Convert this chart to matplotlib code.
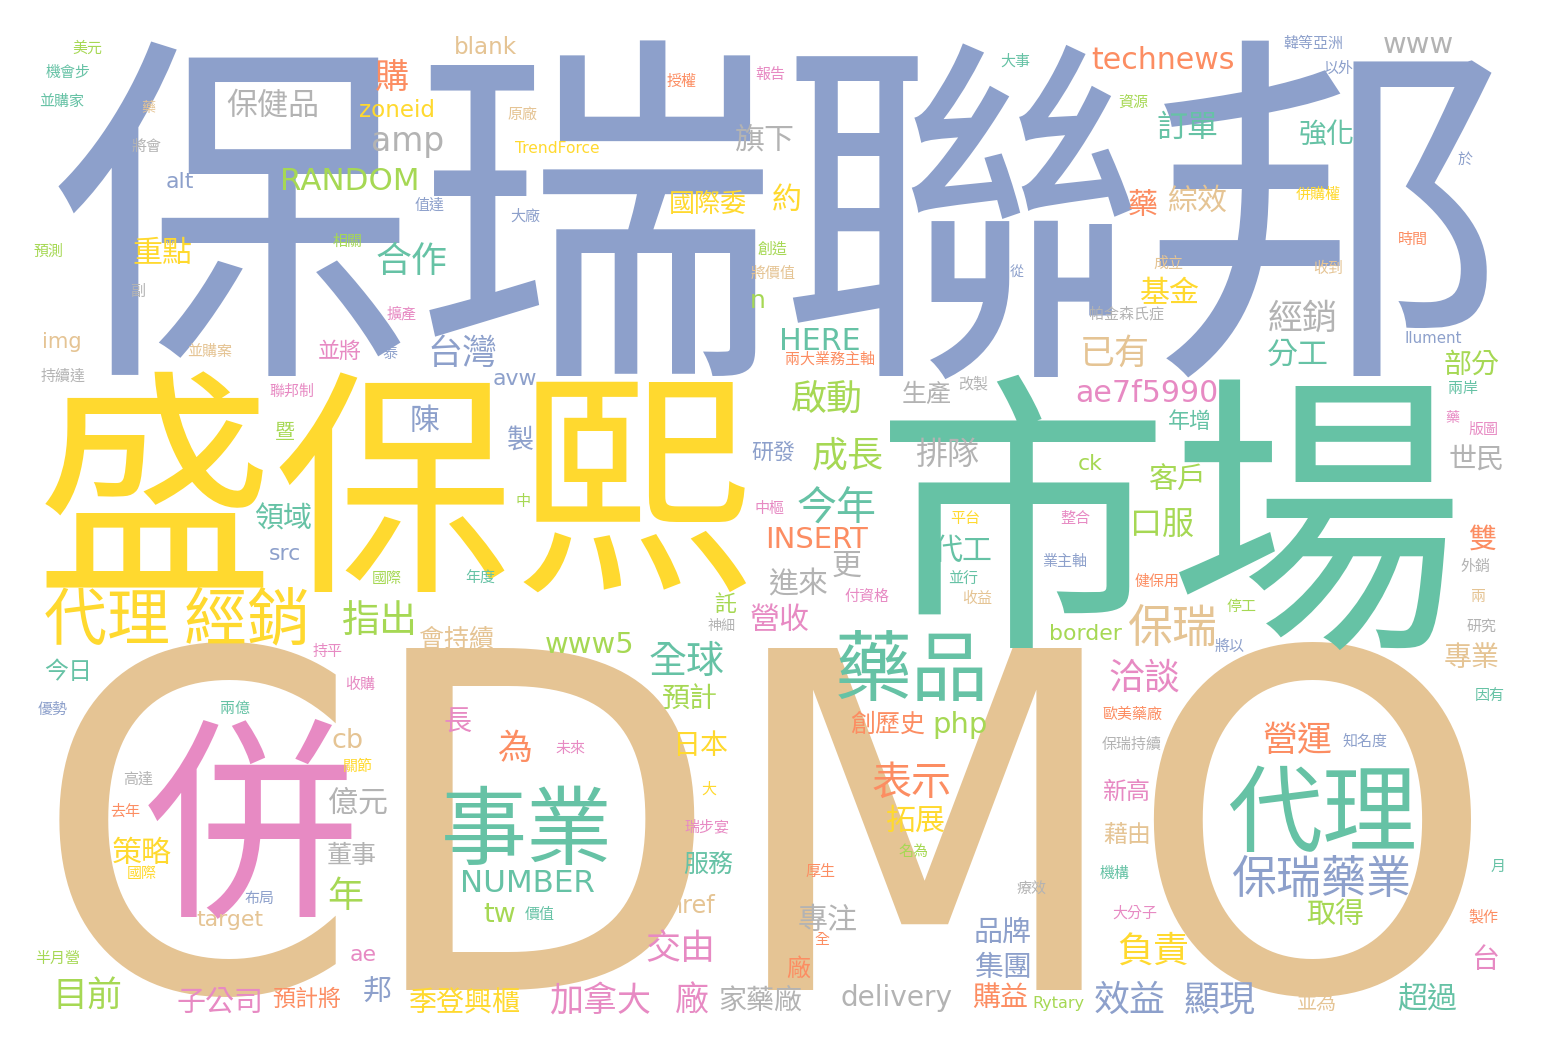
import matplotlib
matplotlib.use("Agg")
import matplotlib.pyplot as plt

plt.rcParams['font.family'] = ['Noto Sans CJK TC', 'DejaVu Sans']

# ---------------- data: words and their relative frequencies ----------------
words = [
    # large
    "保瑞聯邦", "盛保熙", "市場", "CDMO", "併", "事業", "代理", "藥品", "代理 經銷",
    # medium CJK
    "保瑞藥業", "保瑞", "表示", "今年", "全球", "指出", "洽談", "負責", "效益", "顯現",
    "加拿大", "合作", "啟動", "成長", "營運", "交由", "台灣", "為", "購", "已有",
    "經銷", "年", "目前", "廠", "排隊", "保健品", "訂單", "分工", "代工", "口服",
    "旗下", "約", "綜效", "藥", "重點", "基金", "陳", "更", "進來", "營收",
    "專注", "拓展", "策略", "億元", "超過", "客戶", "領域", "強化", "部分", "世民",
    "雙", "專業", "取得", "子公司", "品牌", "集團", "購益", "家藥廠", "季登興櫃", "邦",
    "製", "日本", "預計", "台", "國際委", "創歷史", "服務", "會持續", "生產", "董事",
    "預計將", "今日", "新高", "藉由", "廠", "研發", "年增", "託", "暨", "並將",
    "並為", "長",
    # latin
    "technews", "RANDOM", "NUMBER", "INSERT", "ae7f5990", "delivery", "amp", "www", "HERE", "www5",
    "php", "cb", "tw", "href", "border", "blank", "zoneid", "alt", "img", "avw",
    "src", "ck", "target", "n", "ae", "TrendForce", "Rytary", "Ilument",
    # small CJK
    "美元", "機會步", "並購家", "藥", "將會", "預測", "相關", "副", "擴產", "並購案",
    "泰", "值達", "大廠", "原廠", "授權", "報告", "創造", "將價值", "兩大業務主軸", "改製",
    "大事", "韓等亞洲", "以外", "資源", "於", "併購權", "時間", "成立", "收到", "帕金森氏症",
    "從", "持續達", "聯邦制", "國際", "年度", "持平", "收購", "中", "中樞", "付資格",
    "神細", "平台", "並行", "收益", "兩岸", "藥", "版圖", "整合", "業主軸", "外銷",
    "健保用", "停工", "兩", "將以", "研究", "因有", "優勢", "兩億", "關節", "高達",
    "去年", "國際", "布局", "半月營", "未來", "大", "瑞步宴", "名為", "厚生", "價值",
    "全", "歐美藥廠", "保瑞持續", "知名度", "機構", "療效", "月", "大分子", "製作",
]

freqs = [
    365, 240, 295, 470, 215, 86, 95, 77, 63,
    45, 45, 40, 40, 38, 38, 36, 36, 36, 36,
    34, 36, 36, 36, 35, 35, 35, 35, 34, 35,
    35, 36, 35, 34, 32, 31, 31, 31, 30, 32,
    30, 30, 30, 30, 30, 30, 30, 30, 30, 30,
    30, 30, 30, 30, 30, 29, 29, 28, 28, 28,
    28, 28, 29, 29, 29, 29, 28, 28, 28, 29,
    27, 28, 28, 28, 26, 25, 25, 25, 25, 25,
    23, 24, 24, 24, 24, 22, 22, 22, 20, 22,
    20, 28,
    30, 31, 31, 29, 30, 28, 33, 29, 30, 29,
    29, 27, 27, 24, 22, 23, 23, 22, 21, 22,
    22, 22, 22, 25, 22, 15.5, 16, 15,
    15, 15, 15, 14, 15, 15, 15, 15, 15, 15,
    15, 15, 15, 15, 15, 15, 15, 15, 15, 15,
    15, 15, 15, 15, 15, 15, 15, 15, 15, 15,
    14, 15, 15, 15, 15, 15, 15, 15, 15, 15,
    14, 15, 15, 15, 15, 14, 15, 15, 15, 15,
    15, 15, 15, 15, 15, 15, 15, 15, 15, 15,
    15, 15, 15, 15, 15, 15, 15, 15, 15, 15,
    15, 15, 15, 15, 15, 15, 15, 15, 15,
]

# ---------------- layout (word-cloud placement, pixel space) ----------------
layout_xy = [
    (780, 205), (395, 480), (1170, 510), (765, 811), (251, 815), (527, 825), (1322, 807), (912, 665), (177, 615),
    (1322, 875), (1173, 625), (912, 780), (837, 505), (687, 658), (380, 618), (1145, 675), (1153, 948), (1130, 997), (1220, 998),
    (600, 997), (412, 258), (827, 397), (848, 453), (1297, 737), (680, 945), (462, 350), (515, 745), (392, 75), (1115, 350),
    (1303, 315), (345, 893), (88, 992), (692, 998), (947, 452), (273, 103), (1187, 125), (1298, 352), (962, 548), (1162, 522),
    (765, 137), (787, 197), (1197, 198), (1143, 202), (162, 250), (1170, 290), (425, 418), (847, 563), (798, 582), (780, 617),
    (828, 917), (915, 818), (142, 850), (358, 800), (1427, 997), (1178, 478), (283, 517), (1327, 133), (1472, 362), (1477, 458),
    (1482, 537), (1472, 655), (1335, 912), (220, 1000), (1003, 930), (1003, 965), (1000, 995), (760, 998), (465, 1000), (377, 990),
    (520, 437), (700, 743), (690, 697), (1485, 957), (708, 202), (888, 722), (708, 862), (457, 637), (927, 392), (352, 853),
    (307, 997), (68, 670), (1127, 790), (1127, 833), (798, 967), (773, 450), (1190, 420), (725, 603), (285, 430), (340, 350),
    (1317, 1002), (458, 720),
    (1163, 57), (350, 178), (527, 880), (817, 537), (1147, 390), (897, 995), (408, 138), (1418, 42), (820, 338), (590, 642),
    (960, 722), (348, 738), (500, 912), (692, 903), (1085, 632), (485, 45), (397, 108), (180, 180), (62, 340), (515, 377),
    (285, 552), (1090, 462), (230, 918), (758, 298), (363, 953), (557, 147), (1058, 1002), (1433, 337),
    (87, 47), (68, 71), (62, 100), (148, 107), (147, 145), (48, 250), (348, 240), (138, 290), (402, 313), (210, 350),
    (390, 352), (430, 204), (525, 215), (523, 113), (682, 80), (770, 73), (773, 248), (773, 272), (830, 358), (973, 382),
    (1015, 60), (1313, 42), (1338, 67), (1133, 102), (1465, 158), (1318, 193), (1413, 238), (1168, 262), (1328, 267), (1127, 313),
    (1017, 270), (63, 375), (292, 390), (387, 577), (480, 577), (328, 650), (360, 683), (523, 500), (770, 507), (867, 595),
    (722, 625), (965, 517), (963, 577), (977, 597), (1463, 387), (1452, 417), (1483, 428), (1075, 517), (1065, 560), (1475, 565),
    (1157, 580), (1242, 605), (1478, 595), (1230, 645), (1482, 625), (1490, 695), (53, 708), (235, 707), (358, 765), (138, 778),
    (125, 810), (142, 872), (260, 897), (58, 957), (570, 747), (709, 788), (707, 825), (913, 850), (820, 870), (540, 913),
    (822, 938), (1132, 713), (1132, 743), (1365, 740), (1115, 872), (1032, 887), (1498, 865), (1135, 912), (1483, 915),
]

color_keys = (
    "BYTNPTTTY"
    "BNOTTLPYBB"
    "PTLLOPBOON"
    "GLLPGGTTTL"
    "GYNOYYBGGP"
    "GYYGTLTTLG"
    "ONLPBBOGYB"
    "BYLPYOTNGG"
    "OTPNOBTLLP"
    "NP"
    "OLTOPGGGTL"
    "LNLNLNYBNB"
    "BLNLPYLB"
    "LTTNGLLGPN"
    "BBBNOPLNOG"
    "TBBLBYONNG"
    "BGPLTPPLPP"
    "GYTNTPPPBG"
    "OLNBGTBTYG"
    "OYBLPYPLOT"
    "OOGBTGTPO"
)

palette = {
    "T": "#66c2a5", "O": "#fc8d62", "B": "#8da0cb", "P": "#e78ac3",
    "L": "#a6d854", "Y": "#ffd92f", "N": "#e5c494", "G": "#b3b3b3",
}

n = min(len(words), len(freqs), len(layout_xy), len(color_keys))

W, H = 1548, 1052
DPI = 100
fig = plt.figure(figsize=(W / DPI, H / DPI), dpi=DPI)
ax = fig.add_axes([0, 0, 1, 1])
ax.set_xlim(0, W)
ax.set_ylim(H, 0)
ax.axis("off")
fig.patch.set_facecolor("white")

px_to_pt = 72.0 / DPI
# draw biggest first so small words sit on top
order = sorted(range(n), key=lambda i: -freqs[i])
for i in order:
    x, y = layout_xy[i]
    size_px = freqs[i]
    word = words[i]
    fam = ['DejaVu Sans'] if word.isascii() else ['Noto Sans CJK TC', 'DejaVu Sans']
    ax.text(x, y + 0.105 * size_px, word, fontsize=size_px * px_to_pt,
            color=palette[color_keys[i]], ha="center", va="center",
            family=fam)

fig.savefig("out.png", dpi=DPI, facecolor="white")
